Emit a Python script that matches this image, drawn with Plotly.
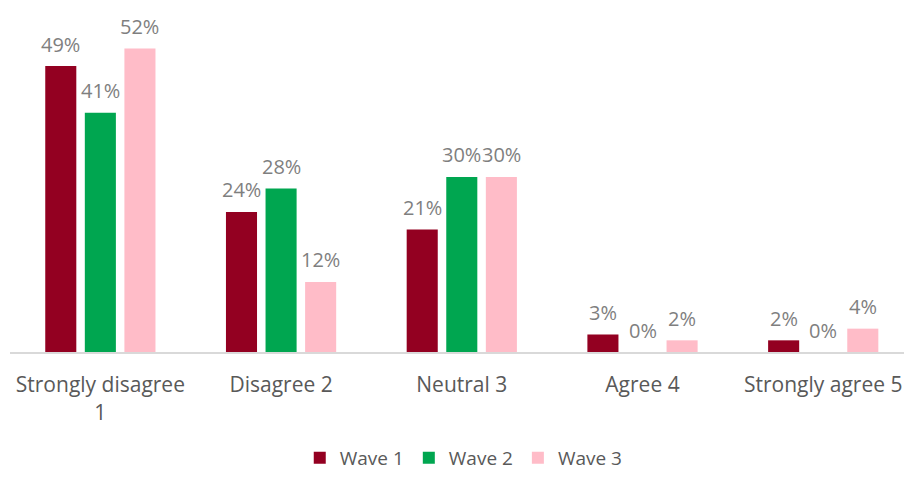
import plotly.graph_objects as go

# Survey responses by wave (percent of respondents)
categories = ["Strongly disagree<br>1", "Disagree 2", "Neutral 3", "Agree 4", "Strongly agree 5"]
wave_names = ["Wave 1", "Wave 2", "Wave 3"]
wave1 = [49, 24, 21, 3, 2]
wave2 = [41, 28, 30, 0, 0]
wave3 = [52, 12, 30, 2, 4]
colors = ["#930021", "#00A650", "#FFBCC8"]

series = [wave1, wave2, wave3]
FONT = "Open Sans, sans-serif"
label_font = dict(family=FONT, size=20, color="#7F7F7F")

fig = go.Figure()
for name, vals, col in zip(wave_names, series, colors):
    fig.add_trace(go.Bar(
        x=categories, y=vals, name=name,
        marker=dict(color=col, line=dict(width=0)),
    ))

# value labels above each bar, shifted to the bar's slot within its group
slot_px = 39.5
for i, vals in enumerate(series):
    for cat, v in zip(categories, vals):
        fig.add_annotation(
            x=cat, y=v, text=f"{v}%", showarrow=False,
            xshift=(i - 1) * slot_px, yshift=22, yanchor="middle",
            font=label_font,
        )

fig.update_layout(
    width=904, height=477,
    margin=dict(l=10, r=0, t=10, b=125),
    paper_bgcolor="white", plot_bgcolor="white",
    barmode="group", bargap=0.343, bargroupgap=0.215,
    showlegend=True,
    legend=dict(
        orientation="h", xref="container", yref="container",
        x=0.513, xanchor="center", y=0.0, yanchor="bottom",
        itemwidth=30, tracegroupgap=0,
        font=dict(family=FONT, size=19, color="#595959"),
    ),
    xaxis=dict(
        type="category", range=[-0.5, 4.447],
        showline=True, linecolor="#D9D9D9", linewidth=2,
        ticks="outside", ticklen=13, tickcolor="rgba(0,0,0,0)",
        tickfont=dict(family=FONT, size=21, color="#595959"),
        showgrid=False,
    ),
    yaxis=dict(range=[0, 58.6], visible=False, showgrid=False, zeroline=False),
)

fig.write_html("out.html")
